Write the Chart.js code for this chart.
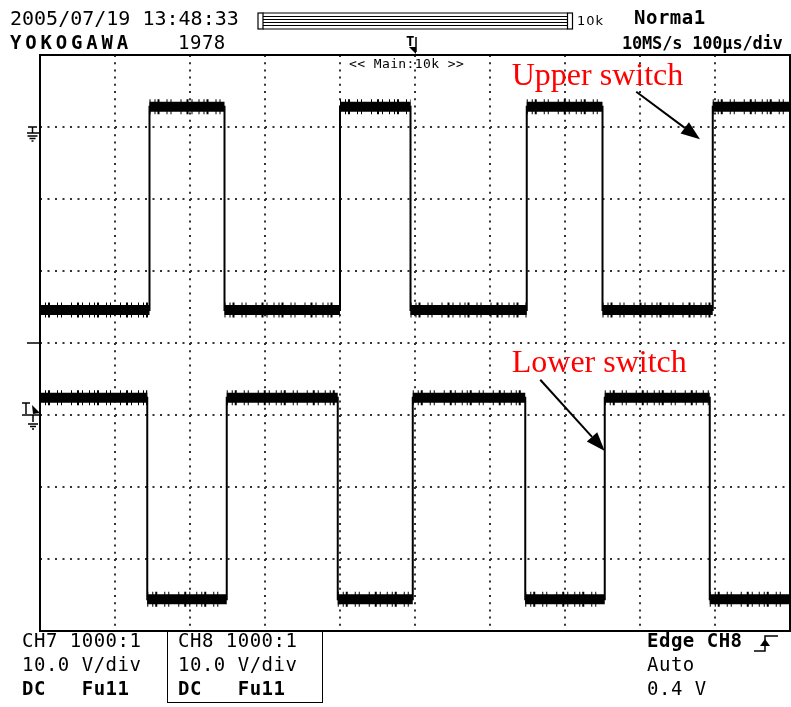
<!DOCTYPE html>
<html>
<head>
<meta charset="utf-8">
<script src="https://cdn.jsdelivr.net/npm/chart.js@4/dist/chart.umd.min.js"></script>
<style>
  body { margin: 0; background: #fff; }
  #wrap { position: relative; width: 791px; height: 707px; overflow: hidden; }
  #scope { position: absolute; left: 0; top: 0; }
  .t { position: absolute; font-family: "DejaVu Sans Mono", monospace; font-size: 19px; line-height: 19px;
       letter-spacing: 0.5px; color: #000; white-space: pre; }
  .b { font-weight: bold; }
  #ch8box { position: absolute; left: 167px; top: 630px; width: 154px; height: 72px;
            border: 1.5px solid #000; border-top: none; }
</style>
</head>
<body>
<div id="wrap">
  <canvas id="scope" width="791" height="707"></canvas>
  <div class="t" style="left:10px;top:8px;font-size:20px;line-height:20px;letter-spacing:0">2005/07/19 13:48:33</div>
  <div class="t b" style="left:10px;top:33px;letter-spacing:3.8px">YOKOGAWA</div>
  <div class="t" style="left:178px;top:33px">1978</div>
  <div class="t" style="left:577px;top:14px;font-family:'DejaVu Sans',sans-serif;font-size:13px;line-height:13px;letter-spacing:1px">10k</div>
  <div class="t" style="left:349px;top:57px;font-size:13px;line-height:13px;letter-spacing:0.4px">&lt;&lt; Main:10k &gt;&gt;</div>
  <div class="t b" style="left:406px;top:34px;font-size:14px;line-height:14px">T</div>
  <div class="t b" style="left:634px;top:8px">Norma1</div>
  <div class="t b" style="left:622px;top:35px;font-size:17px;line-height:17px;letter-spacing:-0.2px">10MS/s 100µs/div</div>

  <div class="t" style="left:22px;top:631px">CH7 1000:1</div>
  <div class="t" style="left:22px;top:655px">10.0 V/div</div>
  <div class="t b" style="left:22px;top:679px">DC   Fu11</div>
  <div id="ch8box"></div>
  <div class="t" style="left:178px;top:631px">CH8 1000:1</div>
  <div class="t" style="left:178px;top:655px">10.0 V/div</div>
  <div class="t b" style="left:178px;top:679px">DC   Fu11</div>
  <div class="t b" style="left:647px;top:631px">Edge CH8</div>
  <div class="t" style="left:647px;top:655px">Auto</div>
  <div class="t" style="left:647px;top:679px">0.4 V</div>
</div>
<script>
// time axis in µs (100 µs/div, 10 div), vertical axis in divisions (8 div)
const timeRange = [0, 1000];
const divRange = [-4, 4];

// CH7 – upper switch: edge times (µs) and level of each flat part (div)
const upperEdges = [146, 246, 400, 494, 649, 750, 897];
const upperLevels = [0.46, 3.28, 0.46, 3.28, 0.46, 3.28, 0.46, 3.28];

// CH8 – lower switch
const lowerStart = -3.9;
const lowerEdges = [143, 249, 397, 497, 647, 753, 893];
const lowerLevels = [-0.76, -3.56, -0.76, -3.56, -0.76, -3.56, -0.76, -3.56];

// ground / centre markers on the left edge (div)
const upperGround = 3;
const lowerGround = -1;

// annotations
const noteLabels = ['Upper switch', 'Lower switch'];
const noteText = [[629, 3.58], [629, -0.40]];
const noteFrom = [[795, 3.49], [667, -0.51]];
const noteTo = [[880, 2.83], [753, -1.50]];

function stepPoints(edges, levels, first) {
  const pts = [];
  if (first !== undefined) pts.push({ x: timeRange[0], y: first });
  pts.push({ x: timeRange[0], y: levels[0] });
  edges.forEach((t, i) => {
    pts.push({ x: t, y: levels[i] }, { x: t, y: levels[i + 1] });
  });
  pts.push({ x: timeRange[1], y: levels[levels.length - 1] });
  return pts;
}

// flat parts only, split by gaps, for the thick noisy band
function bandPoints(edges, levels) {
  const bounds = [timeRange[0], ...edges, timeRange[1]];
  const pts = [];
  levels.forEach((v, i) => {
    pts.push({ x: bounds[i], y: v }, { x: bounds[i + 1], y: v }, { x: bounds[i + 1], y: null });
  });
  return pts;
}

function arrow(ctx, x0, y0, x1, y1) {
  const a = Math.atan2(y1 - y0, x1 - x0);
  const len = 19, w = 7;
  const bx = x1 - len * Math.cos(a), by = y1 - len * Math.sin(a);
  ctx.beginPath();
  ctx.moveTo(x0, y0);
  ctx.lineTo(bx, by);
  ctx.stroke();
  ctx.beginPath();
  ctx.moveTo(x1, y1);
  ctx.lineTo(bx + w * Math.sin(a), by - w * Math.cos(a));
  ctx.lineTo(bx - w * Math.sin(a), by + w * Math.cos(a));
  ctx.closePath();
  ctx.fill();
}

function groundLines(ctx, cx, y0) {
  ctx.beginPath();
  ctx.moveTo(cx - 5, y0); ctx.lineTo(cx + 5, y0);
  ctx.moveTo(cx - 3, y0 + 2.5); ctx.lineTo(cx + 3, y0 + 2.5);
  ctx.moveTo(cx - 1, y0 + 5); ctx.lineTo(cx + 1, y0 + 5);
  ctx.stroke();
}

const scopeDecor = {
  id: 'scopeDecor',
  afterDatasetsDraw(chart) {
    const { ctx, chartArea: a, scales: { x, y } } = chart;
    ctx.save();
    ctx.strokeStyle = '#000';
    ctx.fillStyle = '#000';

    // screen frame
    ctx.lineWidth = 2;
    ctx.strokeRect(a.left, a.top, a.right - a.left, a.bottom - a.top);

    // upper ground marker
    ctx.lineWidth = 1.5;
    let gy = Math.round(y.getPixelForValue(upperGround));
    ctx.beginPath();
    ctx.moveTo(28, gy); ctx.lineTo(37, gy);
    ctx.moveTo(32.5, gy); ctx.lineTo(32.5, gy + 6);
    ctx.moveTo(27, gy + 6); ctx.lineTo(a.left, gy + 6);
    ctx.stroke();
    groundLines(ctx, 32.5, gy + 9);

    // centre marker
    const cy = Math.round(y.getPixelForValue(0));
    ctx.beginPath();
    ctx.moveTo(27, cy); ctx.lineTo(a.left, cy);
    ctx.stroke();

    // lower trigger + ground marker
    gy = Math.round(y.getPixelForValue(lowerGround));
    ctx.beginPath();
    ctx.moveTo(22, gy); ctx.lineTo(a.left, gy);
    ctx.moveTo(33, gy); ctx.lineTo(33, gy + 7);
    ctx.moveTo(22, gy - 12); ctx.lineTo(30, gy - 12);
    ctx.moveTo(26, gy - 12); ctx.lineTo(26, gy - 1);
    ctx.stroke();
    groundLines(ctx, 33, gy + 9);
    ctx.beginPath();
    ctx.moveTo(32, gy - 10); ctx.lineTo(a.left, gy - 2); ctx.lineTo(33, gy - 1);
    ctx.closePath(); ctx.fill();

    // memory bar at the top
    ctx.lineWidth = 1.2;
    ctx.strokeRect(258, 13, 5, 16);
    ctx.strokeRect(567.5, 13, 5, 16);
    ctx.beginPath();
    [13, 16.5, 19.5, 22.5, 25.5, 29].forEach(v => { ctx.moveTo(263, v); ctx.lineTo(567.5, v); });
    ctx.stroke();

    // trigger position marker
    ctx.lineWidth = 1.5;
    ctx.beginPath();
    ctx.moveTo(416, 37); ctx.lineTo(416, 52);
    ctx.stroke();
    ctx.beginPath();
    ctx.moveTo(409, 47); ctx.lineTo(416, 47); ctx.lineTo(416, 54);
    ctx.closePath(); ctx.fill();

    // rising edge trigger symbol
    ctx.beginPath();
    ctx.moveTo(754, 651); ctx.lineTo(765, 651); ctx.lineTo(765, 636); ctx.lineTo(778, 636);
    ctx.stroke();
    ctx.beginPath();
    ctx.moveTo(760, 646); ctx.lineTo(770, 646); ctx.lineTo(765, 639);
    ctx.closePath(); ctx.fill();

    // red annotations with arrows
    ctx.font = '32px "Liberation Serif", "Times New Roman", serif';
    ctx.textBaseline = 'alphabetic';
    ctx.fillStyle = '#ff0000';
    noteLabels.forEach((s, i) => {
      ctx.fillText(s, x.getPixelForValue(noteText[i][0]), y.getPixelForValue(noteText[i][1]));
    });
    ctx.fillStyle = '#000';
    ctx.lineWidth = 2;
    noteLabels.forEach((s, i) => {
      arrow(ctx,
        x.getPixelForValue(noteFrom[i][0]), y.getPixelForValue(noteFrom[i][1]),
        x.getPixelForValue(noteTo[i][0]), y.getPixelForValue(noteTo[i][1]));
    });
    ctx.restore();
  }
};

const edgeStyle = { borderColor: '#000', borderWidth: 2, pointRadius: 0, tension: 0, fill: false };
const bandStyle = { borderColor: '#000', borderWidth: 10, pointRadius: 0, tension: 0, fill: false, spanGaps: false };
const spikeStyle = { borderColor: '#000', borderWidth: 15, pointRadius: 0, tension: 0, fill: false, spanGaps: false,
                     borderDash: [1, 4, 1, 2, 2, 7, 1, 3, 1, 9, 1, 5, 2, 3, 1, 6] };

new Chart(document.getElementById('scope'), {
  type: 'line',
  data: {
    datasets: [
      { label: 'CH7', data: stepPoints(upperEdges, upperLevels), ...edgeStyle },
      { label: 'CH7 noise', data: bandPoints(upperEdges, upperLevels), ...bandStyle },
      { label: 'CH7 spikes', data: bandPoints(upperEdges, upperLevels), ...spikeStyle },
      { label: 'CH8', data: stepPoints(lowerEdges, lowerLevels, lowerStart), ...edgeStyle },
      { label: 'CH8 noise', data: bandPoints(lowerEdges, lowerLevels), ...bandStyle },
      { label: 'CH8 spikes', data: bandPoints(lowerEdges, lowerLevels), ...spikeStyle }
    ]
  },
  options: {
    responsive: false,
    animation: false,
    devicePixelRatio: 1,
    layout: { padding: { left: 40, top: 55, right: 1, bottom: 76 } },
    plugins: { legend: { display: false }, tooltip: { enabled: false } },
    scales: {
      x: {
        type: 'linear', min: timeRange[0], max: timeRange[1],
        ticks: { display: false, stepSize: 100 },
        grid: { drawTicks: false, color: '#333', lineWidth: 2 },
        border: { display: false, dash: [2, 5.2] },
        afterFit(s) { s.height = 0; }
      },
      y: {
        type: 'linear', min: divRange[0], max: divRange[1],
        ticks: { display: false, stepSize: 1 },
        grid: { drawTicks: false, color: '#333', lineWidth: 2 },
        border: { display: false, dash: [2, 5.5] },
        afterFit(s) { s.width = 0; }
      }
    }
  },
  plugins: [scopeDecor]
});
</script>
</body>
</html>
